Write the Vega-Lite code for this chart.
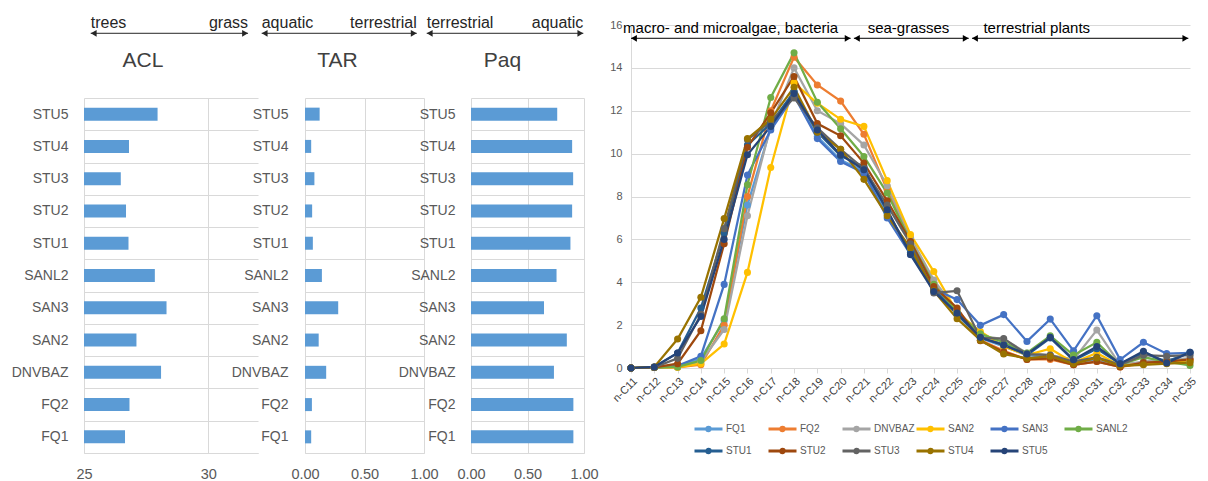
{
"$schema":"https://vega.github.io/schema/vega-lite/v6.json",
"padding":{"left":11,"top":14,"right":5,"bottom":0},
"config":{"view":{"stroke":null},"font":"Liberation Sans","axis":{"labelOverlap":false},"legend":{"layout":{"bottom":{"anchor":"middle"}}}},
"datasets":{
"bars":[
{"sample":"STU5","index":"ACL","value":27.96},{"sample":"STU4","index":"ACL","value":26.81},{"sample":"STU3","index":"ACL","value":26.48},{"sample":"STU2","index":"ACL","value":26.69},{"sample":"STU1","index":"ACL","value":26.79},{"sample":"SANL2","index":"ACL","value":27.85},{"sample":"SAN3","index":"ACL","value":28.32},{"sample":"SAN2","index":"ACL","value":27.11},{"sample":"DNVBAZ","index":"ACL","value":28.1},{"sample":"FQ2","index":"ACL","value":26.83},{"sample":"FQ1","index":"ACL","value":26.65},
{"sample":"STU5","index":"TAR","value":0.123},{"sample":"STU4","index":"TAR","value":0.052},{"sample":"STU3","index":"TAR","value":0.079},{"sample":"STU2","index":"TAR","value":0.06},{"sample":"STU1","index":"TAR","value":0.066},{"sample":"SANL2","index":"TAR","value":0.142},{"sample":"SAN3","index":"TAR","value":0.279},{"sample":"SAN2","index":"TAR","value":0.115},{"sample":"DNVBAZ","index":"TAR","value":0.178},{"sample":"FQ2","index":"TAR","value":0.058},{"sample":"FQ1","index":"TAR","value":0.052},
{"sample":"STU5","index":"Paq","value":0.763},{"sample":"STU4","index":"Paq","value":0.895},{"sample":"STU3","index":"Paq","value":0.904},{"sample":"STU2","index":"Paq","value":0.895},{"sample":"STU1","index":"Paq","value":0.88},{"sample":"SANL2","index":"Paq","value":0.757},{"sample":"SAN3","index":"Paq","value":0.646},{"sample":"SAN2","index":"Paq","value":0.848},{"sample":"DNVBAZ","index":"Paq","value":0.734},{"sample":"FQ2","index":"Paq","value":0.906},{"sample":"FQ1","index":"Paq","value":0.906}
],
"arrows":[
{"panel":"ACL","left":"trees","right":"grass","from":25.27,"to":31.6},
{"panel":"TAR","left":"aquatic","right":"terrestrial","from":-0.364,"to":0.939},
{"panel":"Paq","left":"terrestrial","right":"aquatic","from":-0.392,"to":0.994}
],
"spans":[
{"group":"macro- and microalgae, bacteria","from":11,"to":20.43,"labelAt":10.66},
{"group":"sea-grasses","from":20.57,"to":25.5,"labelAt":21.16},
{"group":"terrestrial plants","from":25.64,"to":34.93,"labelAt":26.13}
],
"lines":[
{"sample":"FQ1","carbon":11,"value":0},{"sample":"FQ1","carbon":12,"value":0.02},{"sample":"FQ1","carbon":13,"value":0.05},{"sample":"FQ1","carbon":14,"value":0.45},{"sample":"FQ1","carbon":15,"value":2.2},{"sample":"FQ1","carbon":16,"value":7.6},{"sample":"FQ1","carbon":17,"value":11.2},{"sample":"FQ1","carbon":18,"value":12.9},{"sample":"FQ1","carbon":19,"value":10.8},{"sample":"FQ1","carbon":20,"value":9.7},{"sample":"FQ1","carbon":21,"value":9.2},{"sample":"FQ1","carbon":22,"value":7.2},{"sample":"FQ1","carbon":23,"value":5.5},{"sample":"FQ1","carbon":24,"value":3.8},{"sample":"FQ1","carbon":25,"value":2.6},{"sample":"FQ1","carbon":26,"value":1.4},{"sample":"FQ1","carbon":27,"value":1.0},{"sample":"FQ1","carbon":28,"value":0.6},{"sample":"FQ1","carbon":29,"value":0.5},{"sample":"FQ1","carbon":30,"value":0.3},{"sample":"FQ1","carbon":31,"value":0.35},{"sample":"FQ1","carbon":32,"value":0.1},{"sample":"FQ1","carbon":33,"value":0.2},{"sample":"FQ1","carbon":34,"value":0.3},{"sample":"FQ1","carbon":35,"value":0.3},
{"sample":"FQ2","carbon":11,"value":0},{"sample":"FQ2","carbon":12,"value":0.02},{"sample":"FQ2","carbon":13,"value":0.03},{"sample":"FQ2","carbon":14,"value":0.15},{"sample":"FQ2","carbon":15,"value":2.0},{"sample":"FQ2","carbon":16,"value":8.0},{"sample":"FQ2","carbon":17,"value":12.0},{"sample":"FQ2","carbon":18,"value":14.5},{"sample":"FQ2","carbon":19,"value":13.2},{"sample":"FQ2","carbon":20,"value":12.45},{"sample":"FQ2","carbon":21,"value":10.9},{"sample":"FQ2","carbon":22,"value":8.3},{"sample":"FQ2","carbon":23,"value":6.0},{"sample":"FQ2","carbon":24,"value":4.0},{"sample":"FQ2","carbon":25,"value":2.7},{"sample":"FQ2","carbon":26,"value":1.3},{"sample":"FQ2","carbon":27,"value":0.8},{"sample":"FQ2","carbon":28,"value":0.4},{"sample":"FQ2","carbon":29,"value":0.4},{"sample":"FQ2","carbon":30,"value":0.15},{"sample":"FQ2","carbon":31,"value":0.3},{"sample":"FQ2","carbon":32,"value":0.05},{"sample":"FQ2","carbon":33,"value":0.2},{"sample":"FQ2","carbon":34,"value":0.25},{"sample":"FQ2","carbon":35,"value":0.4},
{"sample":"DNVBAZ","carbon":11,"value":0},{"sample":"DNVBAZ","carbon":12,"value":0.02},{"sample":"DNVBAZ","carbon":13,"value":0.05},{"sample":"DNVBAZ","carbon":14,"value":0.3},{"sample":"DNVBAZ","carbon":15,"value":1.8},{"sample":"DNVBAZ","carbon":16,"value":7.1},{"sample":"DNVBAZ","carbon":17,"value":11.3},{"sample":"DNVBAZ","carbon":18,"value":14.0},{"sample":"DNVBAZ","carbon":19,"value":12.0},{"sample":"DNVBAZ","carbon":20,"value":11.4},{"sample":"DNVBAZ","carbon":21,"value":10.4},{"sample":"DNVBAZ","carbon":22,"value":8.5},{"sample":"DNVBAZ","carbon":23,"value":6.1},{"sample":"DNVBAZ","carbon":24,"value":4.1},{"sample":"DNVBAZ","carbon":25,"value":2.7},{"sample":"DNVBAZ","carbon":26,"value":1.5},{"sample":"DNVBAZ","carbon":27,"value":1.35},{"sample":"DNVBAZ","carbon":28,"value":0.7},{"sample":"DNVBAZ","carbon":29,"value":0.6},{"sample":"DNVBAZ","carbon":30,"value":0.4},{"sample":"DNVBAZ","carbon":31,"value":1.77},{"sample":"DNVBAZ","carbon":32,"value":0.15},{"sample":"DNVBAZ","carbon":33,"value":0.3},{"sample":"DNVBAZ","carbon":34,"value":0.4},{"sample":"DNVBAZ","carbon":35,"value":0.45},
{"sample":"SAN2","carbon":11,"value":0},{"sample":"SAN2","carbon":12,"value":0.02},{"sample":"SAN2","carbon":13,"value":0.03},{"sample":"SAN2","carbon":14,"value":0.2},{"sample":"SAN2","carbon":15,"value":1.12},{"sample":"SAN2","carbon":16,"value":4.46},{"sample":"SAN2","carbon":17,"value":9.35},{"sample":"SAN2","carbon":18,"value":13.3},{"sample":"SAN2","carbon":19,"value":12.35},{"sample":"SAN2","carbon":20,"value":11.6},{"sample":"SAN2","carbon":21,"value":11.27},{"sample":"SAN2","carbon":22,"value":8.74},{"sample":"SAN2","carbon":23,"value":6.22},{"sample":"SAN2","carbon":24,"value":4.5},{"sample":"SAN2","carbon":25,"value":2.6},{"sample":"SAN2","carbon":26,"value":1.7},{"sample":"SAN2","carbon":27,"value":1.0},{"sample":"SAN2","carbon":28,"value":0.6},{"sample":"SAN2","carbon":29,"value":0.9},{"sample":"SAN2","carbon":30,"value":0.25},{"sample":"SAN2","carbon":31,"value":0.7},{"sample":"SAN2","carbon":32,"value":0.1},{"sample":"SAN2","carbon":33,"value":0.2},{"sample":"SAN2","carbon":34,"value":0.3},{"sample":"SAN2","carbon":35,"value":0.35},
{"sample":"SAN3","carbon":11,"value":0},{"sample":"SAN3","carbon":12,"value":0.02},{"sample":"SAN3","carbon":13,"value":0.1},{"sample":"SAN3","carbon":14,"value":0.55},{"sample":"SAN3","carbon":15,"value":3.9},{"sample":"SAN3","carbon":16,"value":9.0},{"sample":"SAN3","carbon":17,"value":11.1},{"sample":"SAN3","carbon":18,"value":12.7},{"sample":"SAN3","carbon":19,"value":10.7},{"sample":"SAN3","carbon":20,"value":9.63},{"sample":"SAN3","carbon":21,"value":9.1},{"sample":"SAN3","carbon":22,"value":7.0},{"sample":"SAN3","carbon":23,"value":5.3},{"sample":"SAN3","carbon":24,"value":3.7},{"sample":"SAN3","carbon":25,"value":3.19},{"sample":"SAN3","carbon":26,"value":1.99},{"sample":"SAN3","carbon":27,"value":2.49},{"sample":"SAN3","carbon":28,"value":1.24},{"sample":"SAN3","carbon":29,"value":2.28},{"sample":"SAN3","carbon":30,"value":0.8},{"sample":"SAN3","carbon":31,"value":2.44},{"sample":"SAN3","carbon":32,"value":0.39},{"sample":"SAN3","carbon":33,"value":1.2},{"sample":"SAN3","carbon":34,"value":0.67},{"sample":"SAN3","carbon":35,"value":0.7},
{"sample":"SANL2","carbon":11,"value":0},{"sample":"SANL2","carbon":12,"value":0.02},{"sample":"SANL2","carbon":13,"value":0.05},{"sample":"SANL2","carbon":14,"value":0.35},{"sample":"SANL2","carbon":15,"value":2.3},{"sample":"SANL2","carbon":16,"value":8.55},{"sample":"SANL2","carbon":17,"value":12.62},{"sample":"SANL2","carbon":18,"value":14.7},{"sample":"SANL2","carbon":19,"value":12.4},{"sample":"SANL2","carbon":20,"value":11.16},{"sample":"SANL2","carbon":21,"value":9.87},{"sample":"SANL2","carbon":22,"value":8.16},{"sample":"SANL2","carbon":23,"value":5.9},{"sample":"SANL2","carbon":24,"value":3.9},{"sample":"SANL2","carbon":25,"value":2.6},{"sample":"SANL2","carbon":26,"value":1.6},{"sample":"SANL2","carbon":27,"value":1.2},{"sample":"SANL2","carbon":28,"value":0.7},{"sample":"SANL2","carbon":29,"value":1.5},{"sample":"SANL2","carbon":30,"value":0.6},{"sample":"SANL2","carbon":31,"value":1.2},{"sample":"SANL2","carbon":32,"value":0.15},{"sample":"SANL2","carbon":33,"value":0.5},{"sample":"SANL2","carbon":34,"value":0.3},{"sample":"SANL2","carbon":35,"value":0.12},
{"sample":"STU1","carbon":11,"value":0},{"sample":"STU1","carbon":12,"value":0.05},{"sample":"STU1","carbon":13,"value":0.7},{"sample":"STU1","carbon":14,"value":2.8},{"sample":"STU1","carbon":15,"value":6.3},{"sample":"STU1","carbon":16,"value":10.4},{"sample":"STU1","carbon":17,"value":11.4},{"sample":"STU1","carbon":18,"value":12.9},{"sample":"STU1","carbon":19,"value":11.0},{"sample":"STU1","carbon":20,"value":9.9},{"sample":"STU1","carbon":21,"value":9.4},{"sample":"STU1","carbon":22,"value":7.3},{"sample":"STU1","carbon":23,"value":5.4},{"sample":"STU1","carbon":24,"value":3.7},{"sample":"STU1","carbon":25,"value":2.5},{"sample":"STU1","carbon":26,"value":1.4},{"sample":"STU1","carbon":27,"value":1.1},{"sample":"STU1","carbon":28,"value":0.6},{"sample":"STU1","carbon":29,"value":1.4},{"sample":"STU1","carbon":30,"value":0.35},{"sample":"STU1","carbon":31,"value":0.9},{"sample":"STU1","carbon":32,"value":0.2},{"sample":"STU1","carbon":33,"value":0.7},{"sample":"STU1","carbon":34,"value":0.3},{"sample":"STU1","carbon":35,"value":0.73},
{"sample":"STU2","carbon":11,"value":0},{"sample":"STU2","carbon":12,"value":0.03},{"sample":"STU2","carbon":13,"value":0.2},{"sample":"STU2","carbon":14,"value":1.74},{"sample":"STU2","carbon":15,"value":5.8},{"sample":"STU2","carbon":16,"value":10.3},{"sample":"STU2","carbon":17,"value":11.9},{"sample":"STU2","carbon":18,"value":13.6},{"sample":"STU2","carbon":19,"value":11.4},{"sample":"STU2","carbon":20,"value":10.83},{"sample":"STU2","carbon":21,"value":9.56},{"sample":"STU2","carbon":22,"value":7.8},{"sample":"STU2","carbon":23,"value":5.9},{"sample":"STU2","carbon":24,"value":3.8},{"sample":"STU2","carbon":25,"value":2.8},{"sample":"STU2","carbon":26,"value":1.27},{"sample":"STU2","carbon":27,"value":0.75},{"sample":"STU2","carbon":28,"value":0.4},{"sample":"STU2","carbon":29,"value":0.45},{"sample":"STU2","carbon":30,"value":0.15},{"sample":"STU2","carbon":31,"value":0.3},{"sample":"STU2","carbon":32,"value":0.05},{"sample":"STU2","carbon":33,"value":0.25},{"sample":"STU2","carbon":34,"value":0.3},{"sample":"STU2","carbon":35,"value":0.4},
{"sample":"STU3","carbon":11,"value":0},{"sample":"STU3","carbon":12,"value":0.03},{"sample":"STU3","carbon":13,"value":0.45},{"sample":"STU3","carbon":14,"value":2.5},{"sample":"STU3","carbon":15,"value":6.5},{"sample":"STU3","carbon":16,"value":10.65},{"sample":"STU3","carbon":17,"value":11.5},{"sample":"STU3","carbon":18,"value":12.6},{"sample":"STU3","carbon":19,"value":11.2},{"sample":"STU3","carbon":20,"value":10.2},{"sample":"STU3","carbon":21,"value":9.3},{"sample":"STU3","carbon":22,"value":7.6},{"sample":"STU3","carbon":23,"value":5.8},{"sample":"STU3","carbon":24,"value":3.5},{"sample":"STU3","carbon":25,"value":3.6},{"sample":"STU3","carbon":26,"value":1.4},{"sample":"STU3","carbon":27,"value":1.37},{"sample":"STU3","carbon":28,"value":0.65},{"sample":"STU3","carbon":29,"value":0.6},{"sample":"STU3","carbon":30,"value":0.3},{"sample":"STU3","carbon":31,"value":0.5},{"sample":"STU3","carbon":32,"value":0.15},{"sample":"STU3","carbon":33,"value":0.6},{"sample":"STU3","carbon":34,"value":0.55},{"sample":"STU3","carbon":35,"value":0.6},
{"sample":"STU4","carbon":11,"value":0},{"sample":"STU4","carbon":12,"value":0.05},{"sample":"STU4","carbon":13,"value":1.35},{"sample":"STU4","carbon":14,"value":3.3},{"sample":"STU4","carbon":15,"value":6.97},{"sample":"STU4","carbon":16,"value":10.7},{"sample":"STU4","carbon":17,"value":11.6},{"sample":"STU4","carbon":18,"value":13.1},{"sample":"STU4","carbon":19,"value":11.0},{"sample":"STU4","carbon":20,"value":10.2},{"sample":"STU4","carbon":21,"value":8.8},{"sample":"STU4","carbon":22,"value":7.1},{"sample":"STU4","carbon":23,"value":5.6},{"sample":"STU4","carbon":24,"value":3.6},{"sample":"STU4","carbon":25,"value":2.3},{"sample":"STU4","carbon":26,"value":1.3},{"sample":"STU4","carbon":27,"value":0.65},{"sample":"STU4","carbon":28,"value":0.45},{"sample":"STU4","carbon":29,"value":0.55},{"sample":"STU4","carbon":30,"value":0.2},{"sample":"STU4","carbon":31,"value":0.47},{"sample":"STU4","carbon":32,"value":0.1},{"sample":"STU4","carbon":33,"value":0.15},{"sample":"STU4","carbon":34,"value":0.2},{"sample":"STU4","carbon":35,"value":0.25},
{"sample":"STU5","carbon":11,"value":0},{"sample":"STU5","carbon":12,"value":0.05},{"sample":"STU5","carbon":13,"value":0.7},{"sample":"STU5","carbon":14,"value":2.4},{"sample":"STU5","carbon":15,"value":6.0},{"sample":"STU5","carbon":16,"value":9.95},{"sample":"STU5","carbon":17,"value":11.27},{"sample":"STU5","carbon":18,"value":12.8},{"sample":"STU5","carbon":19,"value":11.1},{"sample":"STU5","carbon":20,"value":9.95},{"sample":"STU5","carbon":21,"value":9.25},{"sample":"STU5","carbon":22,"value":7.38},{"sample":"STU5","carbon":23,"value":5.29},{"sample":"STU5","carbon":24,"value":3.57},{"sample":"STU5","carbon":25,"value":2.56},{"sample":"STU5","carbon":26,"value":1.43},{"sample":"STU5","carbon":27,"value":1.06},{"sample":"STU5","carbon":28,"value":0.65},{"sample":"STU5","carbon":29,"value":1.43},{"sample":"STU5","carbon":30,"value":0.39},{"sample":"STU5","carbon":31,"value":1.0},{"sample":"STU5","carbon":32,"value":0.2},{"sample":"STU5","carbon":33,"value":0.78},{"sample":"STU5","carbon":34,"value":0.23},{"sample":"STU5","carbon":35,"value":0.73}
]
},
"bounds":"flush",
"spacing":547,
"resolve":{"scale":{"x":"independent","y":"independent","color":"independent"},"legend":{"color":"independent"}},
"hconcat":[
{
"columns":3,
"bounds":"flush",
"spacing":{"row":17,"column":47},
"resolve":{"scale":{"x":"independent","y":"independent"}},
"concat":[
{"width":174,"height":56,"data":{"name":"arrows"},"transform":[{"filter":"datum.panel === 'ACL'"}],
"layer":[
{"mark":{"type":"rule","color":"#262626"},"encoding":{"x":{"field":"from","type":"quantitative","scale":{"domain":[25,32]},"axis":null},"x2":{"field":"to"},"y":{"datum":0.852,"type":"quantitative","scale":{"domain":[0,1]},"axis":null}}},
{"mark":{"type":"point","shape":"triangle-left","filled":true,"opacity":1,"color":"#262626","size":45,"xOffset":3},"encoding":{"x":{"field":"from","type":"quantitative","scale":{"domain":[25,32]},"axis":null},"y":{"datum":0.852,"type":"quantitative","scale":{"domain":[0,1]},"axis":null}}},
{"mark":{"type":"point","shape":"triangle-right","filled":true,"opacity":1,"color":"#262626","size":45,"xOffset":-3},"encoding":{"x":{"field":"to","type":"quantitative","scale":{"domain":[25,32]},"axis":null},"y":{"datum":0.852,"type":"quantitative","scale":{"domain":[0,1]},"axis":null}}},
{"mark":{"type":"text","align":"left","baseline":"alphabetic","fontSize":16,"color":"#262626"},"encoding":{"x":{"field":"from","type":"quantitative","scale":{"domain":[25,32]},"axis":null},"y":{"datum":0.952,"type":"quantitative","scale":{"domain":[0,1]},"axis":null},"text":{"field":"left"}}},
{"mark":{"type":"text","align":"right","baseline":"alphabetic","fontSize":16,"color":"#262626"},"encoding":{"x":{"field":"to","type":"quantitative","scale":{"domain":[25,32]},"axis":null},"y":{"datum":0.952,"type":"quantitative","scale":{"domain":[0,1]},"axis":null},"text":{"field":"right"}}}
]},
{"width":119,"height":56,"data":{"name":"arrows"},"transform":[{"filter":"datum.panel === 'TAR'"}],
"layer":[
{"mark":{"type":"rule","color":"#262626"},"encoding":{"x":{"field":"from","type":"quantitative","scale":{"domain":[0,1]},"axis":null},"x2":{"field":"to"},"y":{"datum":0.852,"type":"quantitative","scale":{"domain":[0,1]},"axis":null}}},
{"mark":{"type":"point","shape":"triangle-left","filled":true,"opacity":1,"color":"#262626","size":45,"xOffset":3},"encoding":{"x":{"field":"from","type":"quantitative","scale":{"domain":[0,1]},"axis":null},"y":{"datum":0.852,"type":"quantitative","scale":{"domain":[0,1]},"axis":null}}},
{"mark":{"type":"point","shape":"triangle-right","filled":true,"opacity":1,"color":"#262626","size":45,"xOffset":-3},"encoding":{"x":{"field":"to","type":"quantitative","scale":{"domain":[0,1]},"axis":null},"y":{"datum":0.852,"type":"quantitative","scale":{"domain":[0,1]},"axis":null}}},
{"mark":{"type":"text","align":"left","baseline":"alphabetic","fontSize":16,"color":"#262626"},"encoding":{"x":{"field":"from","type":"quantitative","scale":{"domain":[0,1]},"axis":null},"y":{"datum":0.952,"type":"quantitative","scale":{"domain":[0,1]},"axis":null},"text":{"field":"left"}}},
{"mark":{"type":"text","align":"right","baseline":"alphabetic","fontSize":16,"color":"#262626"},"encoding":{"x":{"field":"to","type":"quantitative","scale":{"domain":[0,1]},"axis":null},"y":{"datum":0.952,"type":"quantitative","scale":{"domain":[0,1]},"axis":null},"text":{"field":"right"}}}
]},
{"width":113,"height":56,"data":{"name":"arrows"},"transform":[{"filter":"datum.panel === 'Paq'"}],
"layer":[
{"mark":{"type":"rule","color":"#262626"},"encoding":{"x":{"field":"from","type":"quantitative","scale":{"domain":[0,1]},"axis":null},"x2":{"field":"to"},"y":{"datum":0.852,"type":"quantitative","scale":{"domain":[0,1]},"axis":null}}},
{"mark":{"type":"point","shape":"triangle-left","filled":true,"opacity":1,"color":"#262626","size":45,"xOffset":3},"encoding":{"x":{"field":"from","type":"quantitative","scale":{"domain":[0,1]},"axis":null},"y":{"datum":0.852,"type":"quantitative","scale":{"domain":[0,1]},"axis":null}}},
{"mark":{"type":"point","shape":"triangle-right","filled":true,"opacity":1,"color":"#262626","size":45,"xOffset":-3},"encoding":{"x":{"field":"to","type":"quantitative","scale":{"domain":[0,1]},"axis":null},"y":{"datum":0.852,"type":"quantitative","scale":{"domain":[0,1]},"axis":null}}},
{"mark":{"type":"text","align":"left","baseline":"alphabetic","fontSize":16,"color":"#262626"},"encoding":{"x":{"field":"from","type":"quantitative","scale":{"domain":[0,1]},"axis":null},"y":{"datum":0.952,"type":"quantitative","scale":{"domain":[0,1]},"axis":null},"text":{"field":"left"}}},
{"mark":{"type":"text","align":"right","baseline":"alphabetic","fontSize":16,"color":"#262626"},"encoding":{"x":{"field":"to","type":"quantitative","scale":{"domain":[0,1]},"axis":null},"y":{"datum":0.952,"type":"quantitative","scale":{"domain":[0,1]},"axis":null},"text":{"field":"right"}}}
]},
{"width":174,"height":355,"title":{"text":"ACL","fontSize":21,"fontWeight":"normal","color":"#404040","anchor":"middle","dx":-28,"baseline":"alphabetic","offset":3},
"data":{"name":"bars"},"transform":[{"filter":"datum.index === 'ACL'"}],
"mark":{"type":"bar","color":"#5B9BD5","size":13},
"encoding":{
"y":{"field":"sample","type":"nominal","sort":["STU5","STU4","STU3","STU2","STU1","SANL2","SAN3","SAN2","DNVBAZ","FQ2","FQ1"],"scale":{"paddingInner":0,"paddingOuter":0},"axis":{"title":null,"tickBand":"extent","grid":true,"gridColor":"#D9D9D9","ticks":false,"domain":false,"labelFontSize":14,"labelColor":"#595959","labelPadding":16}},
"x":{"field":"value","type":"quantitative","scale":{"domain":[25,32],"nice":false,"zero":false},"axis":{"title":null,"values":[25,30],"grid":true,"gridColor":"#D9D9D9","domainColor":"#D9D9D9","ticks":false,"labelFontSize":14.5,"labelColor":"#595959","labelPadding":14,"labelFlush":false,"labelOverlap":false}},
"x2":{"datum":25}
}},
{"width":119,"height":355,"title":{"text":"TAR","fontSize":21,"fontWeight":"normal","color":"#404040","anchor":"middle","dx":-27,"baseline":"alphabetic","offset":3},
"data":{"name":"bars"},"transform":[{"filter":"datum.index === 'TAR'"}],
"mark":{"type":"bar","color":"#5B9BD5","size":13},
"encoding":{
"y":{"field":"sample","type":"nominal","sort":["STU5","STU4","STU3","STU2","STU1","SANL2","SAN3","SAN2","DNVBAZ","FQ2","FQ1"],"scale":{"paddingInner":0,"paddingOuter":0},"axis":{"title":null,"tickBand":"extent","grid":true,"gridColor":"#D9D9D9","ticks":false,"domain":false,"labelFontSize":14,"labelColor":"#595959","labelPadding":17}},
"x":{"field":"value","type":"quantitative","scale":{"domain":[0,1],"nice":false},"axis":{"title":null,"values":[0,0.5,1],"format":".2f","grid":true,"gridColor":"#D9D9D9","domainColor":"#D9D9D9","ticks":false,"labelFontSize":14.5,"labelColor":"#595959","labelPadding":14,"labelFlush":false,"labelOverlap":false}}
}},
{"width":113,"height":355,"title":{"text":"Paq","fontSize":21,"fontWeight":"normal","color":"#404040","anchor":"middle","dx":-25,"baseline":"alphabetic","offset":3},
"data":{"name":"bars"},"transform":[{"filter":"datum.index === 'Paq'"}],
"mark":{"type":"bar","color":"#5B9BD5","size":13},
"encoding":{
"y":{"field":"sample","type":"nominal","sort":["STU5","STU4","STU3","STU2","STU1","SANL2","SAN3","SAN2","DNVBAZ","FQ2","FQ1"],"scale":{"paddingInner":0,"paddingOuter":0},"axis":{"title":null,"tickBand":"extent","grid":true,"gridColor":"#D9D9D9","ticks":false,"domain":false,"labelFontSize":14,"labelColor":"#595959","labelPadding":16}},
"x":{"field":"value","type":"quantitative","scale":{"domain":[0,1],"nice":false},"axis":{"title":null,"values":[0,0.5,1],"format":".2f","grid":true,"gridColor":"#D9D9D9","domainColor":"#D9D9D9","ticks":false,"labelFontSize":14.5,"labelColor":"#595959","labelPadding":14,"labelFlush":false,"labelOverlap":false}}
}}
]},
{
"width":559,"height":343,
"layer":[
{"data":{"name":"lines"},
"mark":{"type":"line","strokeWidth":2.25,"point":{"filled":true,"size":50}},
"encoding":{
"x":{"field":"carbon","type":"quantitative","scale":{"domain":[11,35],"nice":false,"zero":false},"axis":{"title":null,"values":[11,12,13,14,15,16,17,18,19,20,21,22,23,24,25,26,27,28,29,30,31,32,33,34,35],"tickCount":25,"labelExpr":"'n-C' + datum.value","labelAngle":-45,"labelFontSize":11,"labelColor":"#404040","labelPadding":2,"grid":false,"ticks":true,"tickSize":5,"tickColor":"#D9D9D9","domainColor":"#D9D9D9","labelFlush":false,"labelOverlap":false,"labelBound":false}},
"y":{"field":"value","type":"quantitative","scale":{"domain":[0,16],"nice":false},"axis":{"title":null,"values":[0,2,4,6,8,10,12,14,16],"grid":true,"gridColor":"#D9D9D9","ticks":false,"domainColor":"#D9D9D9","labelFontSize":11,"labelColor":"#595959","labelPadding":9}},
"color":{"field":"sample","type":"nominal","scale":{"domain":["FQ1","FQ2","DNVBAZ","SAN2","SAN3","SANL2","STU1","STU2","STU3","STU4","STU5"],"range":["#5B9BD5","#ED7D31","#A5A5A5","#FFC000","#4472C4","#70AD47","#255E91","#9E480E","#636363","#997300","#264478"]},
"legend":{"orient":"bottom","direction":"horizontal","columns":6,"title":null,"symbolType":"M-1,0L3,0M1.25,0A0.25,0.25,0,1,1,0.75,0A0.25,0.25,0,1,1,1.25,0Z","symbolSize":196,"symbolStrokeWidth":3,"labelFontSize":10,"labelColor":"#595959","labelOffset":16,"columnPadding":-5.5,"rowPadding":5.5,"gridAlign":"all","offset":16}}
}},
{"data":{"name":"spans"},"mark":{"type":"rule","color":"#000000"},"encoding":{"x":{"field":"from","type":"quantitative","scale":{"domain":[11,35]}},"x2":{"field":"to"},"y":{"datum":15.38,"type":"quantitative","scale":{"domain":[0,16]}}}},
{"data":{"name":"spans"},"mark":{"type":"point","shape":"triangle-left","filled":true,"opacity":1,"color":"#000000","size":45,"xOffset":3},"encoding":{"x":{"field":"from","type":"quantitative","scale":{"domain":[11,35]}},"y":{"datum":15.38,"type":"quantitative","scale":{"domain":[0,16]}}}},
{"data":{"name":"spans"},"mark":{"type":"point","shape":"triangle-right","filled":true,"opacity":1,"color":"#000000","size":45,"xOffset":-3},"encoding":{"x":{"field":"to","type":"quantitative","scale":{"domain":[11,35]}},"y":{"datum":15.38,"type":"quantitative","scale":{"domain":[0,16]}}}},
{"data":{"name":"spans"},"mark":{"type":"text","align":"left","baseline":"alphabetic","fontSize":15,"color":"#000000"},"encoding":{"x":{"field":"labelAt","type":"quantitative","scale":{"domain":[11,35]}},"y":{"datum":15.62,"type":"quantitative","scale":{"domain":[0,16]}},"text":{"field":"group"}}}
]}
]
}
